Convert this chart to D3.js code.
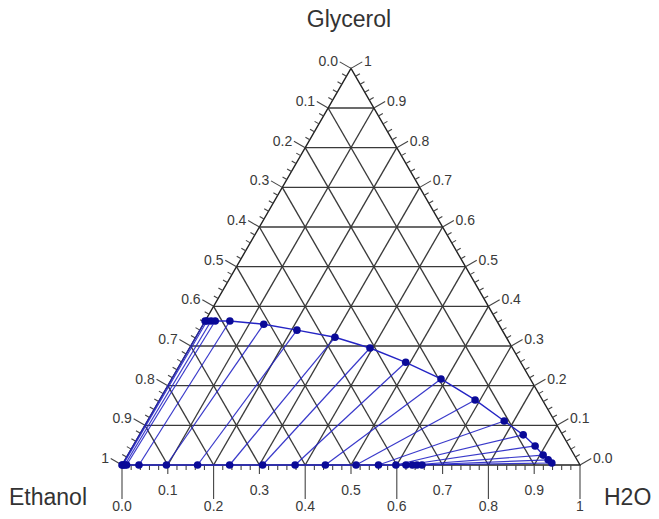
<!DOCTYPE html>
<html>
<head>
<meta charset="utf-8">
<script src="https://cdn.jsdelivr.net/npm/d3@7"></script>
<style>
  html, body { margin: 0; padding: 0; background: #fff; }
  svg { display: block; }
  text { font-family: "Liberation Sans", Arial, sans-serif; }
</style>
</head>
<body>
<svg id="chart" width="659" height="519"></svg>
<script>
// Component names at the three corners
const apexTitle = "Glycerol";
const leftTitle = "Ethanol";
const rightTitle = "H2O";

// Tick labels along each edge
const bottomLabels = ["0.0", "0.1", "0.2", "0.3", "0.4", "0.5", "0.6", "0.7", "0.8", "0.9", "1"];   // H2O, left -> right
const leftLabels = ["0.0", "0.1", "0.2", "0.3", "0.4", "0.5", "0.6", "0.7", "0.8", "0.9", "1"];     // Ethanol, apex -> bottom-left
const rightLabels = ["1", "0.9", "0.8", "0.7", "0.6", "0.5", "0.4", "0.3", "0.2", "0.1", "0.0"];    // Glycerol, apex -> bottom-right

// Glycerol-rich phase (mass fractions of H2O and glycerol)
const upperH2O = [0.000, 0.004, 0.013, 0.022, 0.054, 0.132, 0.212, 0.304, 0.394, 0.490,
                  0.588, 0.689, 0.779, 0.838, 0.878, 0.907, 0.924, 0.936];
const upperGlycerol = [0.363, 0.363, 0.363, 0.363, 0.363, 0.355, 0.340, 0.322, 0.295, 0.259,
                       0.217, 0.164, 0.111, 0.076, 0.048, 0.025, 0.013, 0.005];

// Conjugate phase on the ethanol-H2O edge
const lowerH2O = [0.000, 0.002, 0.006, 0.010, 0.037, 0.097, 0.165, 0.235, 0.307, 0.378,
                  0.444, 0.511, 0.560, 0.598, 0.620, 0.634, 0.644, 0.655];
const lowerGlycerol = [0, 0, 0, 0, 0, 0, 0, 0, 0, 0, 0, 0, 0, 0, 0, 0, 0, 0];

const svg = d3.select("#chart");

// Triangle frame: base from x0 to x1, apex above the middle
const x0 = 122, x1 = 580, baseY = 465;
const side = x1 - x0;
const height = side * Math.sqrt(3) / 2;

const xScale = d3.scaleLinear().domain([0, 1]).range([x0, x1]);
const yScale = d3.scaleLinear().domain([0, 1]).range([baseY, baseY - height]);

// (H2O, glycerol) -> screen position
function pt(w, g) {
  return [xScale(w + g / 2), yScale(g)];
}

const A = pt(0, 1);   // glycerol apex
const L = pt(0, 0);   // ethanol corner
const R = pt(1, 0);   // H2O corner

const gridColor = "#3a3a3a";
const labelColor = "#3a3a3a";
const markColor = "#0a0a98";
const lineColor = "#2424c4";

const grid = svg.append("g");
const steps = d3.range(1, 10).map(i => i / 10);

// constant glycerol (horizontal)
steps.forEach(g => {
  const a = pt(0, g), b = pt(1 - g, g);
  grid.append("line").attr("x1", a[0]).attr("y1", a[1]).attr("x2", b[0]).attr("y2", b[1]);
});
// constant H2O (parallel to the left edge)
steps.forEach(w => {
  const a = pt(w, 0), b = pt(w, 1 - w);
  grid.append("line").attr("x1", a[0]).attr("y1", a[1]).attr("x2", b[0]).attr("y2", b[1]);
});
// constant ethanol (parallel to the right edge)
steps.forEach(e => {
  const a = pt(1 - e, 0), b = pt(0, 1 - e);
  grid.append("line").attr("x1", a[0]).attr("y1", a[1]).attr("x2", b[0]).attr("y2", b[1]);
});
grid.selectAll("line").attr("stroke", gridColor).attr("stroke-width", 1.35);

// Outline
svg.append("path")
  .attr("d", d3.line()([A, L, R, A]) + "Z")
  .attr("fill", "none").attr("stroke", "#222").attr("stroke-width", 1.4);

// Ticks
const ticks = svg.append("g").attr("stroke", "#444").attr("stroke-width", 1.1);
const fine = d3.range(0, 51).map(i => i / 50);

// bottom edge: ticks point straight down
fine.forEach((t, i) => {
  const p = pt(t, 0);
  let len = 5;
  if (i % 5 === 0) len = (i % 10 === 0) ? 34 : 9;
  ticks.append("line").attr("x1", p[0]).attr("y1", p[1]).attr("x2", p[0]).attr("y2", p[1] + len);
});

// left edge: outward normal, up-left
const nL = [-Math.cos(Math.PI / 6), -Math.sin(Math.PI / 6)];
fine.forEach((t, i) => {
  const p = pt(0, 1 - t);
  const len = i % 5 === 0 ? 13 : 5;
  ticks.append("line").attr("x1", p[0]).attr("y1", p[1])
    .attr("x2", p[0] + nL[0] * len).attr("y2", p[1] + nL[1] * len);
});

// right edge: outward normal, up-right
const nR = [Math.cos(Math.PI / 6), -Math.sin(Math.PI / 6)];
fine.forEach((t, i) => {
  const p = pt(1 - t, t);
  const len = i % 5 === 0 ? 13 : 5;
  ticks.append("line").attr("x1", p[0]).attr("y1", p[1])
    .attr("x2", p[0] + nR[0] * len).attr("y2", p[1] + nR[1] * len);
});

// Tick labels
const labels = svg.append("g").attr("fill", labelColor).attr("font-size", 14);

bottomLabels.forEach((s, i) => {
  const p = pt(i / 10, 0);
  labels.append("text")
    .attr("x", p[0]).attr("y", i % 2 === 0 ? 511 : 495)
    .attr("text-anchor", "middle").text(s);
});

leftLabels.forEach((s, i) => {
  const p = pt(0, 1 - i / 10);
  labels.append("text")
    .attr("x", p[0] + nL[0] * 15).attr("y", p[1] + nL[1] * 14 + 5)
    .attr("text-anchor", "end").text(s);
});

rightLabels.forEach((s, i) => {
  const p = pt(i / 10, 1 - i / 10);
  labels.append("text")
    .attr("x", p[0] + nR[0] * 15).attr("y", p[1] + nR[1] * 14 + 5)
    .attr("text-anchor", "start").text(s);
});

// Corner titles
const titles = svg.append("g").attr("fill", "#333").attr("font-size", 23);
titles.append("text").attr("x", A[0] - 2).attr("y", 27).attr("text-anchor", "middle").text(apexTitle);
titles.append("text").attr("x", 9).attr("y", 505).attr("text-anchor", "start").text(leftTitle);
titles.append("text").attr("x", 604).attr("y", 505).attr("text-anchor", "start").text(rightTitle);

// Phase data
const upper = upperH2O.map((w, i) => pt(w, upperGlycerol[i]));
const lower = lowerH2O.map((w, i) => pt(w, lowerGlycerol[i]));

const data = svg.append("g");

// tie lines
upper.forEach((u, i) => {
  const l = lower[i];
  data.append("line")
    .attr("x1", l[0]).attr("y1", l[1]).attr("x2", u[0]).attr("y2", u[1])
    .attr("stroke", lineColor).attr("stroke-width", 1.2).attr("stroke-opacity", 0.9);
});

// phase boundaries
const line = d3.line();
data.append("path").attr("d", line(upper))
  .attr("fill", "none").attr("stroke", lineColor).attr("stroke-width", 1.4);
data.append("path").attr("d", line(lower))
  .attr("fill", "none").attr("stroke", lineColor).attr("stroke-width", 1.4);

// markers
data.selectAll("circle.up").data(upper).join("circle")
  .attr("class", "up")
  .attr("cx", d => d[0]).attr("cy", d => d[1]).attr("r", 3.8)
  .attr("fill", markColor);
data.selectAll("circle.lo").data(lower).join("circle")
  .attr("class", "lo")
  .attr("cx", d => d[0]).attr("cy", d => d[1]).attr("r", 3.8)
  .attr("fill", markColor);
</script>
</body>
</html>
